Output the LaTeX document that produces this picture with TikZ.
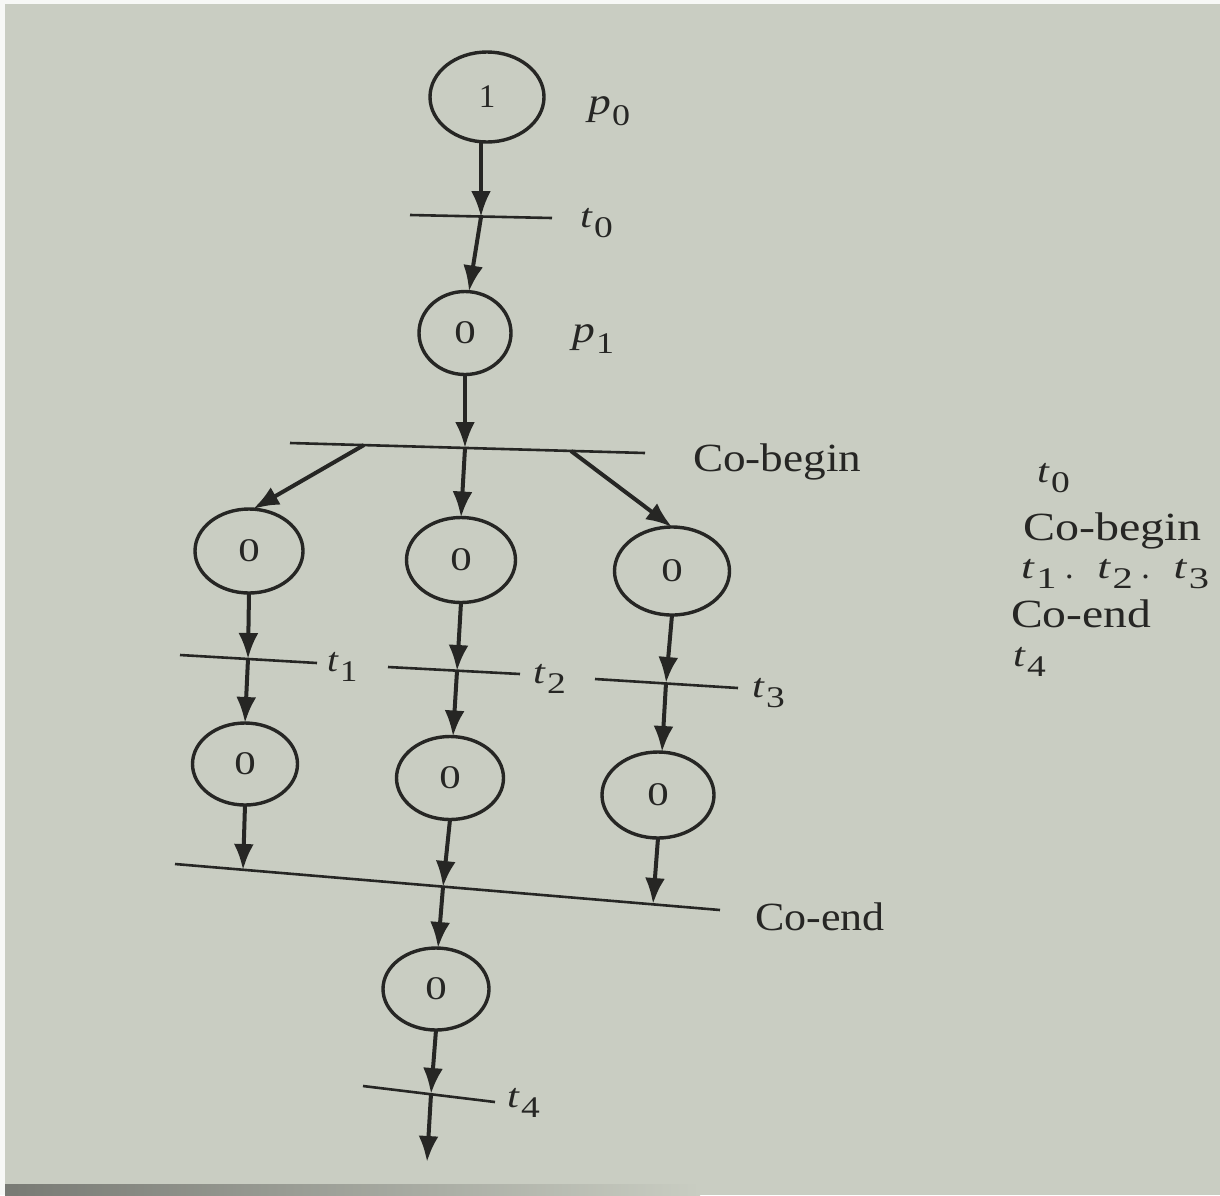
\documentclass[tikz,border=0pt]{standalone}
\usepackage{fontspec}
\setmainfont{Liberation Serif}
\usetikzlibrary{shapes.geometric,arrows.meta}
\definecolor{paper}{RGB}{201,205,194}
\definecolor{ink}{RGB}{38,38,36}
\definecolor{edge}{RGB}{120,122,116}
\newcommand{\lbl}[3][1.25]{\scalebox{#1}[1]{\textit{#2}\kern0.6pt\raisebox{-0.3em}{\fontsize{15}{15}\selectfont #3}}}
\newcommand{\tok}[1]{\scalebox{1.3}[1]{#1}}
\newcommand{\wide}[2]{\scalebox{#1}[1]{#2}}
\tikzset{
  place/.style={ellipse, draw=ink, line width=1.7pt, inner sep=0pt, outer sep=0pt,
                text=ink, font=\fontsize{16.5}{16.5}\selectfont},
  trans/.style={draw=ink, line width=1.3pt},
  arc/.style={draw=ink, line width=2pt, -{Latex[length=13pt,width=10pt]}},
  lab/.style={anchor=base west, inner sep=0pt, outer sep=0pt, text=ink,
              font=\fontsize{20}{22}\selectfont},
  tlab/.style={anchor=base west, inner sep=0pt, outer sep=0pt, text=ink,
              font=\fontsize{17}{18}\selectfont}
}
\begin{document}
\begin{tikzpicture}[x=0.5pt,y=-0.5pt]
\fill[paper] (0,0) rectangle (1220,1195);
\fill[white!85!paper] (0,0) rectangle (5,1195);
\fill[white!85!paper] (0,0) rectangle (1220,4);
\shade[left color=edge, right color=paper] (5,1184) rectangle (700,1195);
\useasboundingbox (0,0) rectangle (1220,1195);

% places
\node[place, minimum width=57pt, minimum height=45pt] (p0) at (487,97) {1};
\node[place, minimum width=46pt, minimum height=41.5pt] (p1) at (465,333) {\tok{0}};
\node[place, minimum width=54pt, minimum height=42pt] (l2) at (249,551) {\tok{0}};
\node[place, minimum width=54.5pt, minimum height=42.5pt] (m2) at (461,560) {\tok{0}};
\node[place, minimum width=57.5pt, minimum height=44pt] (r2) at (672,571) {\tok{0}};
\node[place, minimum width=52.5pt, minimum height=41pt] (l3) at (245,764) {\tok{0}};
\node[place, minimum width=53.5pt, minimum height=41.5pt] (m3) at (450,778) {\tok{0}};
\node[place, minimum width=56pt, minimum height=43pt] (r3) at (658,795) {\tok{0}};
\node[place, minimum width=53pt, minimum height=41pt] (b) at (436,989) {\tok{0}};

% transitions (bars)
\coordinate (t0a) at (410,215); \coordinate (t0b) at (552,218);
\coordinate (cba) at (290,443); \coordinate (cbb) at (645,453);
\coordinate (t1a) at (180,655); \coordinate (t1b) at (317,663);
\coordinate (t2a) at (388,667); \coordinate (t2b) at (520,674);
\coordinate (t3a) at (595,679); \coordinate (t3b) at (738,688);
\coordinate (cea) at (175,864); \coordinate (ceb) at (720,910);
\coordinate (t4a) at (363,1086); \coordinate (t4b) at (495,1102);
\draw[trans] (t0a) -- (t0b);
\draw[trans] (cba) -- (cbb);
\draw[trans] (t1a) -- (t1b);
\draw[trans] (t2a) -- (t2b);
\draw[trans] (t3a) -- (t3b);
\draw[trans] (cea) -- (ceb);
\draw[trans] (t4a) -- (t4b);

% crossing points
\coordinate (t0c) at (481,217);
\coordinate (cbl) at (364,445);
\coordinate (cbm) at (465,448);
\coordinate (cbr) at (571,451);
\coordinate (t1c) at (248,659);
\coordinate (t2c) at (457,671);
\coordinate (t3c) at (666,683);
\coordinate (cel) at (243,870);
\coordinate (cem) at (443,887);
\coordinate (cer) at (653,904);
\coordinate (t4c) at (431,1094);
\coordinate (fin) at (427,1162);

% arcs
\draw[arc] (p0.south -| t0c) -- (t0c);
\draw[arc] (t0c) -- ([xshift=2pt]p1.north);
\draw[arc] (p1.south) -- (cbm);
\draw[arc] (cbl) -- ([xshift=2pt]l2.north);
\draw[arc] (cbm) -- (m2.north);
\draw[arc] (cbr) -- (r2.north);
\draw[arc] (l2.south) -- (t1c);
\draw[arc] (m2.south) -- (t2c);
\draw[arc] (r2.south) -- (t3c);
\draw[arc] (t1c) -- (l3.north);
\draw[arc] (t2c) -- ([xshift=1.5pt]m3.north);
\draw[arc] (t3c) -- ([xshift=2pt]r3.north);
\draw[arc] (l3.south) -- (cel);
\draw[arc] (m3.south) -- (cem);
\draw[arc] (r3.south) -- (cer);
\draw[arc] (cem) -- ([xshift=1pt]b.north);
\draw[arc] (b.south) -- (t4c);
\draw[arc] (t4c) -- (fin);

% labels
\node[tlab, font=\fontsize{19}{20}\selectfont] (lp0) at (588,114) {\lbl[1.2]{p}{0}};
\node[tlab] (lt0) at (580,227) {\lbl{t}{0}};
\node[tlab, font=\fontsize{19}{20}\selectfont] (lp1) at (572,342) {\lbl[1.2]{p}{1}};
\node[lab] (lcb) at (693,471) {\wide{1.13}{Co-begin}};
\node[tlab] (lt1) at (327,671) {\lbl[1.15]{t}{1}};
\node[tlab] (lt2) at (533,683) {\lbl{t}{2}};
\node[tlab] (lt3) at (752,697) {\lbl{t}{3}};
\node[lab] (lce) at (755,930) {\wide{1.1}{Co-end}};
\node[tlab] (lt4) at (507,1107) {\lbl{t}{4}};

% right-hand list
\node[tlab] (r0) at (1037,482) {\lbl{t}{0}};
\node[lab] (r1) at (1023,540) {\wide{1.2}{Co-begin}};
\node[tlab] (r2l) at (1021,578) {\lbl[1.35]{t}{1}\hspace{0.25em}.\hspace{0.7em}\lbl[1.35]{t}{2}\hspace{0.25em}.\hspace{0.7em}\lbl[1.35]{t}{3}};
\node[lab] (r3l) at (1011,627) {\wide{1.19}{Co-end}};
\node[tlab] (r4) at (1013,666) {\lbl{t}{4}};
\end{tikzpicture}
\end{document}
